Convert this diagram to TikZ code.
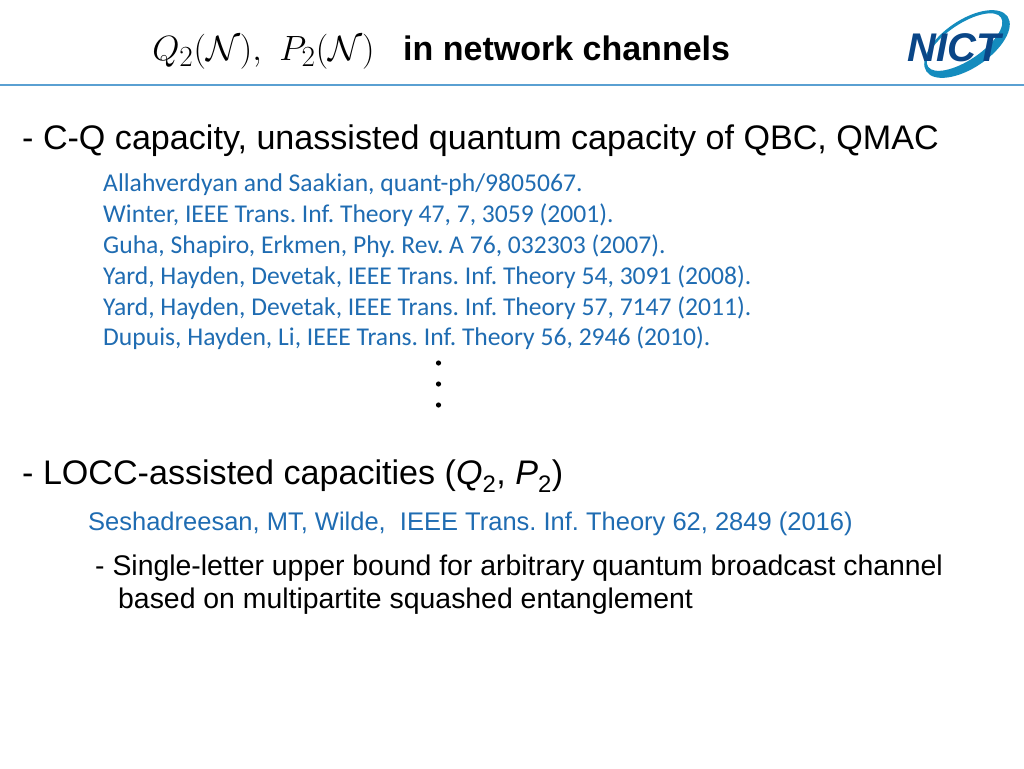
\documentclass[tikz,border=0pt]{standalone}
\usepackage{fontspec}
\setmainfont{Liberation Sans}
\newfontfamily\citefont{Carlito}
\definecolor{citeblue}{RGB}{31,108,178}
\definecolor{rulecolor}{RGB}{90,160,210}
\definecolor{logoteal}{RGB}{20,140,190}
\definecolor{logonavy}{RGB}{10,70,135}
\tikzset{
 bigline/.style={anchor=base west, inner sep=0, font=\fontsize{34.1}{40}\selectfont},
 citeline/.style={anchor=base west, inner sep=0, text=citeblue, font=\citefont\fontsize{25.6}{30}\selectfont},
 subline/.style={anchor=base west, inner sep=0, font=\fontsize{28.4}{34}\selectfont},
}
\frenchspacing
\begin{document}
\begin{tikzpicture}[x=1pt,y=-1pt]
\useasboundingbox (0,0) rectangle (1024,768);
\fill[white] (0,0) rectangle (1024,768);
% header
\draw[rulecolor, line width=1.2] (0,85) -- (1024,85);
\node[anchor=base west, inner sep=0, scale=1.41, font=\fontsize{30}{36}\selectfont] (qp) at (152,60) {$Q_2(\mathcal{N}),\ P_2(\mathcal{N})$};
\node[anchor=base west, inner sep=0, font=\bfseries\fontsize{34}{40}\selectfont] (title) at (403,60) {in network channels};
% logo
\fill[logoteal, even odd rule, rotate around={34:(967,44)}] (967,44) ellipse (49 and 24) (966,41) ellipse (44 and 18);
\node[anchor=base, inner sep=0, text=logonavy, font=\bfseries\itshape\fontsize{40}{44}\selectfont] (logo) at (954,62) {NICT};
% first block
\node[bigline] (cq) at (22,149) {- C-Q capacity, unassisted quantum capacity of QBC, QMAC};
\node[citeline] (c1) at (103,191) {Allahverdyan and Saakian, quant-ph/9805067.};
\node[citeline] (c2) at (103,222) {Winter, IEEE Trans. Inf. Theory 47, 7, 3059 (2001).};
\node[citeline] (c3) at (103,253) {Guha, Shapiro, Erkmen, Phy. Rev. A 76, 032303 (2007).};
\node[citeline] (c4) at (103,284) {Yard, Hayden, Devetak, IEEE Trans. Inf. Theory 54, 3091 (2008).};
\node[citeline] (c5) at (103,315) {Yard, Hayden, Devetak, IEEE Trans. Inf. Theory 57, 7147 (2011).};
\node[citeline] (c6) at (103,345) {Dupuis, Hayden, Li, IEEE Trans. Inf. Theory 56, 2946 (2010).};
\foreach \y in {363,384,405} {
 \fill[black] (438.5,\y) circle (2.6);
}
% second block
\node[bigline] (locc) at (22,484) {- LOCC-assisted capacities (\textit{Q}\textsubscript{2}, \textit{P}\textsubscript{2})};
\node[anchor=base west, inner sep=0, text=citeblue, font=\fontsize{25.5}{30}\selectfont] (sesh) at (88,530) {Seshadreesan, MT, Wilde,\ \ IEEE Trans. Inf. Theory 62, 2849 (2016)};
\node[subline] (s1) at (95,575) {- Single-letter upper bound for arbitrary quantum broadcast channel};
\node[subline] (s2) at (118,608) {based on multipartite squashed entanglement};
\end{tikzpicture}
\end{document}
